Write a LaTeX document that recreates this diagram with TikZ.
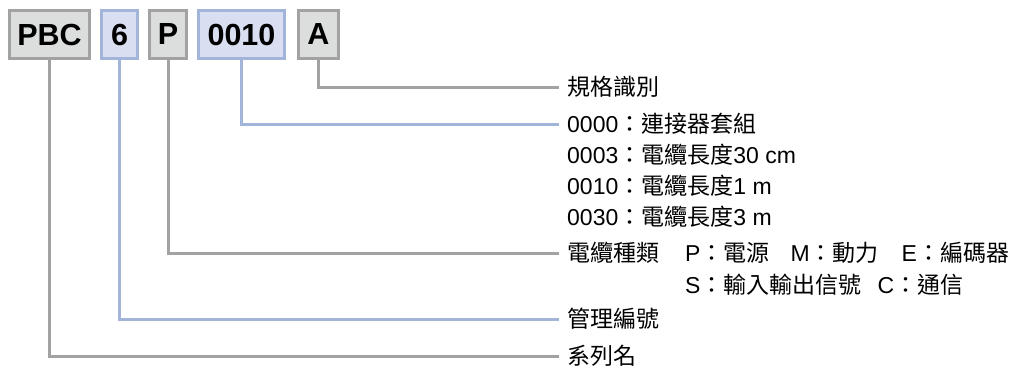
\documentclass[tikz,border=0pt]{standalone}
\usepackage{fontspec}
\setmainfont{Liberation Sans}
\newfontfamily\cjkf{Noto Sans CJK TC}
\newcommand\zh[1]{{\cjkf #1}}
\newcommand\cl{\zh{：}}
\definecolor{gline}{HTML}{A2A2A2}
\definecolor{gfill}{HTML}{DCDDDD}
\definecolor{bline}{HTML}{A3B4DB}
\definecolor{bfill}{HTML}{D9DFF0}
\begin{document}
\begin{tikzpicture}[x=1pt,y=-1pt,
  box/.style={draw=gline,fill=gfill,line width=3pt,minimum height=48pt,inner sep=0pt,font=\bfseries\fontsize{30.5}{30.5}\selectfont},
  bbox/.style={box,draw=bline,fill=bfill},
  lab/.style={anchor=west,inner xsep=8pt,inner ysep=0pt,font=\fontsize{23}{27}\selectfont},
  gcon/.style={draw=gline,line width=3pt},
  bcon/.style={draw=bline,line width=3pt}]
\useasboundingbox (0,0) rectangle (1011,376);
% code boxes
\node[box,minimum width=80pt] (pbc) at (49.5,34.5) {PBC};
\node[bbox,minimum width=36pt] (six) at (119.5,34.5) {6};
\node[box,minimum width=37pt] (p) at (168,34.5) {P};
\node[bbox,minimum width=86pt] (num) at (241.5,34.5) {0010};
\node[box,minimum width=40pt] (a) at (318.5,34.5) {A};
% labels
\node[lab] (la) at (559,87) {\zh{規格識別}};
\node[lab] (l0) at (559,124) {0000\cl\zh{連接器套組}};
\node[lab] (l3) at (559,155) {0003\cl\zh{電纜長度}30 cm};
\node[lab] (l10) at (559,186) {0010\cl\zh{電纜長度}1 m};
\node[lab] (l30) at (559,217) {0030\cl\zh{電纜長度}3 m};
\node[lab] (lp) at (559,253) {\zh{電纜種類}\hspace{26pt}P\cl\zh{電源}\hspace{21pt}M\cl\zh{動力}\hspace{23pt}E\cl\zh{編碼器}};
\node[lab] (ls) at (677,285) {S\cl\zh{輸入輸出信號}\hspace{16pt}C\cl\zh{通信}};
\node[lab] (l6) at (559,319) {\zh{管理編號}};
\node[lab] (lpbc) at (559,356) {\zh{系列名}};
% connectors
\draw[gcon] (a.south) |- (la.west);
\draw[bcon] (num.south) |- (l0.west);
\draw[gcon] (p.south) |- (lp.west);
\draw[bcon] (six.south) |- (l6.west);
\draw[gcon] (pbc.south) |- (lpbc.west);
\end{tikzpicture}
\end{document}
